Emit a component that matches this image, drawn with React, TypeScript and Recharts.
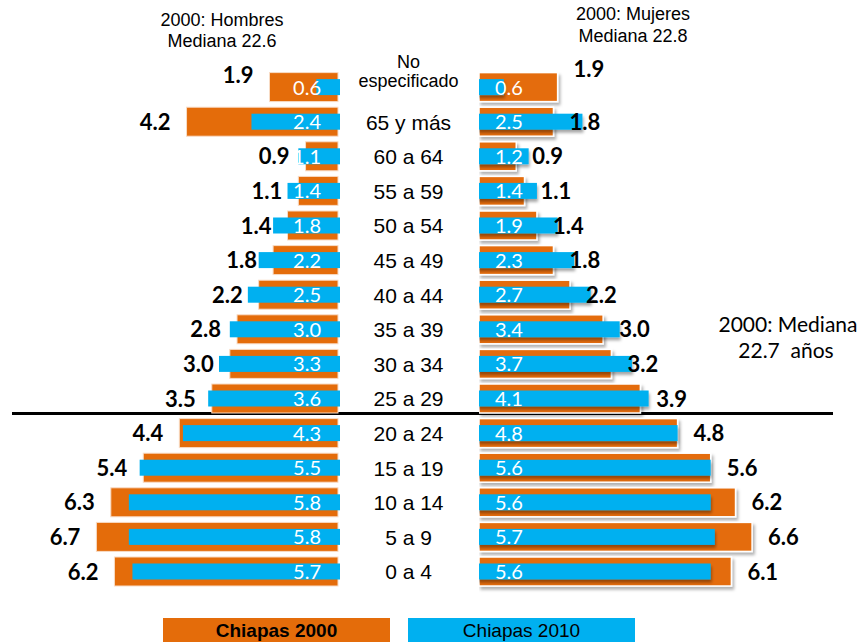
import React from 'react';
import { BarChart, Bar, XAxis, YAxis } from 'recharts';

// Pirámide de población, Chiapas 2000 vs 2010 (porcentajes)
const categories = [
  'No especificado', '65 y más', '60 a 64', '55 a 59', '50 a 54', '45 a 49', '40 a 44',
  '35 a 39', '30 a 34', '25 a 29', '20 a 24', '15 a 19', '10 a 14', '5 a 9', '0 a 4',
];
const hombres2000 = [1.9, 4.2, 0.9, 1.1, 1.4, 1.8, 2.2, 2.8, 3.0, 3.5, 4.4, 5.4, 6.3, 6.7, 6.2];
const hombres2010 = [0.6, 2.4, 1.1, 1.4, 1.8, 2.2, 2.5, 3.0, 3.3, 3.6, 4.3, 5.5, 5.8, 5.8, 5.7];
const mujeres2000 = [1.9, 1.8, 0.9, 1.1, 1.4, 1.8, 2.2, 3.0, 3.2, 3.9, 4.8, 5.6, 6.2, 6.6, 6.1];
const mujeres2010 = [0.6, 2.5, 1.2, 1.4, 1.9, 2.3, 2.7, 3.4, 3.7, 4.1, 4.8, 5.6, 5.6, 5.7, 5.6];
const seriesNames = ['Chiapas 2000', 'Chiapas 2010'];

const ORANGE = '#E46C0A';
const BLUE = '#00B0F0';
const NUM_FONT = 'Lato, "Open Sans", sans-serif';
const TXT_FONT = '"Liberation Sans", Arial, sans-serif';
const CAT_W = 141;

const leftData = categories.map((cat, i) => ({ cat, y2000: hombres2000[i], y2010: hombres2010[i] }));
const rightData = categories.map((cat, i) => ({ cat, y2000: mujeres2000[i], y2010: mujeres2010[i] }));

const box = (p: any) => {
  const v = p.viewBox ?? p;
  const x = Math.min(v.x, v.x + v.width);
  return { x, w: Math.abs(v.width), y: v.y, h: v.height };
};

const orangeShape = (side: 'left' | 'right') => (p: any) => {
  const { x, w, y, h } = box(p);
  if (side === 'left') {
    return <rect x={x} y={y} width={w} height={h} fill={ORANGE} stroke="#f8dcc6" strokeWidth={1} />;
  }
  return <rect x={x} y={y} width={w} height={h} fill={ORANGE} stroke="#fff" strokeWidth={1.5} filter="url(#shR)" />;
};

const blueShape = (side: 'left' | 'right') => (p: any) => {
  const { x, w, y, h } = box(p);
  const bh = 16;
  const by = y + (h - bh) / 2;
  if (side === 'left') return <rect x={x} y={by} width={w + 2} height={bh} fill={BLUE} />;
  return <rect x={x - 1.5} y={by} width={w + 1.5} height={bh} fill={BLUE} filter="url(#shB)" />;
};

const orangeLabel = (side: 'left' | 'right') => (p: any) => {
  const { x, w, y, h } = box(p);
  const first = p.index === 0;
  const tx = side === 'left' ? x - 16 : x + w + 16;
  const ty = y + h / 2 + 8 + (first ? (side === 'left' ? -12 : -18) : 0);
  return (
    <text x={tx} y={ty} textAnchor={side === 'left' ? 'end' : 'start'} fontFamily={NUM_FONT}
      fontWeight={700} fontSize={22} fill="#000">
      {Number(p.value).toFixed(1)}
    </text>
  );
};

const blueLabel = (side: 'left' | 'right') => (p: any) => {
  const { x, w, y, h } = box(p);
  const tx = side === 'left' ? x + w - 17 : x + 16;
  return (
    <text x={tx} y={y + h / 2 + 7.5} textAnchor={side === 'left' ? 'end' : 'start'} fontFamily={NUM_FONT}
      fontSize={20} fill="#fff">
      {Number(p.value).toFixed(1)}
    </text>
  );
};

const CatTick = (p: any) => {
  const v = p.payload.value as string;
  const cx = p.x + CAT_W / 2;
  if (v === 'No especificado') {
    return (
      <text x={cx} textAnchor="middle" fontFamily={TXT_FONT} fontSize={18} fill="#000">
        <tspan x={cx} y={p.y - 19}>No</tspan>
        <tspan x={cx} y={p.y}>especificado</tspan>
      </text>
    );
  }
  return (
    <text x={cx} y={p.y + 8} textAnchor="middle" fontFamily={TXT_FONT} fontSize={21} fill="#000">{v}</text>
  );
};

export default function App() {
  return (
    <div style={{ position: 'absolute', left: 0, top: 0, width: 867, height: 643, background: '#fff', overflow: 'hidden' }}>
      {/* línea de la mediana */}
      <div style={{ position: 'absolute', left: 12, top: 412, width: 821, height: 3, background: '#000' }} />

      <div style={{ position: 'absolute', left: 0, top: 0 }}>
        <BarChart layout="vertical" width={479} height={643} data={leftData} barSize={29} barGap={-29}
          margin={{ top: 69.6, right: 0, bottom: 54.4, left: 49.5 }}>
          <XAxis type="number" domain={[0, 8]} reversed hide />
          <YAxis type="category" dataKey="cat" orientation="right" width={CAT_W} axisLine={false}
            tickLine={false} tickSize={0} tickMargin={0} interval={0} tick={<CatTick />} />
          <Bar dataKey="y2000" shape={orangeShape('left')} isAnimationActive={false} />
          <Bar dataKey="y2010" shape={blueShape('left')} label={blueLabel('left')} isAnimationActive={false} />
          <Bar dataKey="y2000" fill="none" label={orangeLabel('left')} isAnimationActive={false} />
        </BarChart>
      </div>

      <div style={{ position: 'absolute', left: 479, top: 0 }}>
        <BarChart layout="vertical" width={388} height={643} data={rightData} barSize={29} barGap={-29}
          margin={{ top: 69.6, right: 57, bottom: 54.4, left: 0 }}>
          <defs>
            <filter id="shR" x="-10%" y="-30%" width="130%" height="180%">
              <feDropShadow dx="2" dy="3" stdDeviation="1.5" floodColor="#000" floodOpacity="0.3" />
            </filter>
            <filter id="shB" x="-10%" y="-30%" width="130%" height="200%">
              <feDropShadow dx="1" dy="3" stdDeviation="1.5" floodColor="#000" floodOpacity="0.35" />
            </filter>
          </defs>
          <XAxis type="number" domain={[0, 8]} hide />
          <YAxis type="category" dataKey="cat" hide />
          <Bar dataKey="y2000" shape={orangeShape('right')} isAnimationActive={false} />
          <Bar dataKey="y2010" shape={blueShape('right')} label={blueLabel('right')} isAnimationActive={false} />
          <Bar dataKey="y2000" fill="none" label={orangeLabel('right')} isAnimationActive={false} />
        </BarChart>
      </div>

      <svg width={867} height={643} style={{ position: 'absolute', left: 0, top: 0, pointerEvents: 'none' }}>
        <g fontFamily={TXT_FONT} fontSize={18} fill="#000" textAnchor="middle">
          <text x={222} y={26}>2000: Hombres</text>
          <text x={222} y={47}>Mediana 22.6</text>
          <text x={633} y={20}>2000: Mujeres</text>
          <text x={633} y={42}>Mediana 22.8</text>
        </g>
        <g fontFamily={NUM_FONT} fontSize={21} fill="#000" textAnchor="middle">
          <text x={788} y={332}>2000: Mediana</text>
          <text x={786} y={358} style={{ whiteSpace: 'pre' }}>22.7  años</text>
        </g>
      </svg>

      {/* leyenda */}
      {seriesNames.map((name, i) => (
        <div key={name} style={{
          position: 'absolute', left: i === 0 ? 163 : 408, top: 618, width: 227, height: 24,
          background: i === 0 ? ORANGE : BLUE, color: '#000', fontFamily: TXT_FONT, fontSize: 19,
          fontWeight: i === 0 ? 700 : 400, textAlign: 'center', lineHeight: '26px',
        }}>{name}</div>
      ))}
    </div>
  );
}
